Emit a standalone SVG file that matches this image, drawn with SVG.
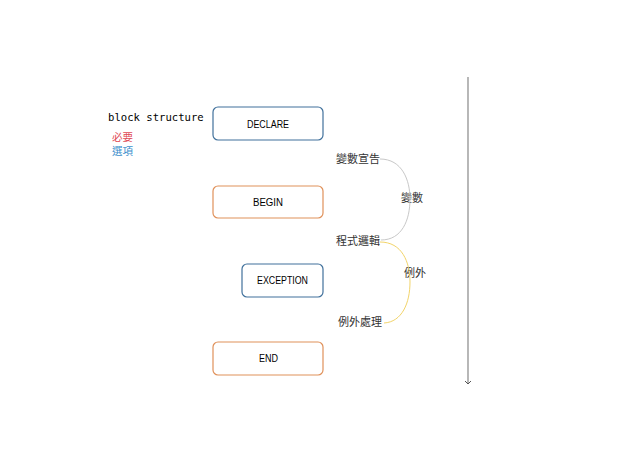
<svg xmlns="http://www.w3.org/2000/svg" width="638" height="451" viewBox="0 0 638 451">
<style>
.box{fill:#fff;stroke-width:1.2}
.blue{stroke:#41719C}
.orange{stroke:#E0915A}
.lbl{font-family:"Liberation Sans","Noto Sans CJK TC",sans-serif;font-size:10px;fill:#000;text-anchor:middle}
.cjk{font-family:"Noto Sans CJK TC","Noto Sans",sans-serif;font-size:11px;fill:#333}
</style>
<defs>
<marker id="ah" markerWidth="8" markerHeight="8" refX="4" refY="4" orient="auto" markerUnits="userSpaceOnUse">
<path d="M1,1 L4,4 L1,7" fill="none" stroke="#555" stroke-width="1"/>
</marker>
</defs>
<rect width="638" height="451" fill="#fff"/>
<text x="108" y="121" font-family="DejaVu Sans Mono,monospace" font-size="10.6" fill="#000">block structure</text>
<text x="112" y="141" font-family="Noto Sans CJK TC,sans-serif" font-size="10.5" fill="#E04A55">必要</text>
<text x="112" y="155" font-family="Noto Sans CJK TC,sans-serif" font-size="10.5" fill="#3D8FCC">選項</text>
<g id="declare"><rect class="box blue" x="213" y="107" width="110" height="33" rx="5"/><text class="lbl" x="268" y="128" textLength="42" lengthAdjust="spacingAndGlyphs">DECLARE</text></g>
<g id="begin"><rect class="box orange" x="213" y="186" width="110" height="32" rx="5"/><text class="lbl" x="268" y="206" textLength="30" lengthAdjust="spacingAndGlyphs">BEGIN</text></g>
<g id="exception"><rect class="box blue" x="242" y="264" width="81" height="33" rx="5"/><text class="lbl" x="282.5" y="284" textLength="51" lengthAdjust="spacingAndGlyphs">EXCEPTION</text></g>
<g id="end"><rect class="box orange" x="213" y="342" width="110" height="33" rx="5"/><text class="lbl" x="268.5" y="362" textLength="19" lengthAdjust="spacingAndGlyphs">END</text></g>
<g id="labels">
<text class="cjk" x="336" y="163">變數宣告</text>
<text class="cjk" x="336" y="245">程式邏輯</text>
<text class="cjk" x="338" y="326">例外處理</text>
<text class="cjk" x="401" y="202">變數</text>
<text class="cjk" x="404" y="277" fill="#333">例外</text>
</g>
<g id="connectors" fill="none">
<path d="M380,159 C402,159 410,180 410,199 C410,220 402,240 381,240" stroke="#C8C8C8" stroke-width="1"/>
<path d="M380,242 C402,242 410,262 410,282 C410,303 402,322 384,323" stroke="#F2D46A" stroke-width="1"/>
<line x1="468" y1="77" x2="468" y2="384" stroke="#888" stroke-width="1.2" marker-end="url(#ah)"/>
</g>
</svg>
